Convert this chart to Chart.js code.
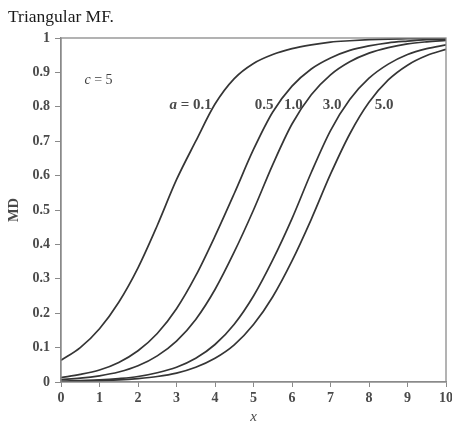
<!DOCTYPE html>
<html>
<head>
<meta charset="utf-8">
<script src="https://cdn.jsdelivr.net/npm/chart.js@4"></script>
<style>
html,body{margin:0;padding:0;background:#fff;}
#wrap{width:452px;height:428px;position:relative;}
</style>
</head>
<body>
<div id="wrap"><canvas id="c" width="452" height="428"></canvas></div>
<script>
// x positions of the read samples
const xValues = [0,0.5,1,1.5,2,2.5,3,3.5,4,4.5,5,5.5,6,6.5,7,7.5,8,8.5,9,9.5,10];
// series (MD values)
const seriesA01 = [0.063,0.100,0.155,0.232,0.332,0.455,0.588,0.700,0.808,0.882,0.926,0.952,0.969,0.980,0.988,0.992,0.995,0.997,0.998,0.999,0.999];
const seriesA05 = [0.013,0.022,0.035,0.057,0.091,0.141,0.213,0.309,0.424,0.548,0.676,0.785,0.860,0.910,0.942,0.964,0.977,0.986,0.991,0.995,0.997];
const seriesA10 = [0.007,0.011,0.018,0.029,0.047,0.076,0.119,0.182,0.269,0.378,0.500,0.632,0.750,0.835,0.893,0.931,0.956,0.972,0.983,0.989,0.993];
const seriesA30 = [0.002,0.004,0.006,0.010,0.016,0.027,0.043,0.069,0.109,0.168,0.250,0.355,0.475,0.609,0.731,0.821,0.883,0.924,0.952,0.969,0.980];
const seriesA50 = [0.001,0.002,0.004,0.006,0.010,0.016,0.026,0.043,0.069,0.108,0.167,0.248,0.352,0.473,0.604,0.721,0.813,0.878,0.921,0.949,0.967];
const seriesNames = ['a = 0.1','0.5','1.0','3.0','5.0'];
const xTicks = [0,1,2,3,4,5,6,7,8,9,10];
const yTicks = [0,0.1,0.2,0.3,0.4,0.5,0.6,0.7,0.8,0.9,1];
const titleText = 'Triangular MF.';
const xTitle = 'x';
const yTitle = 'MD';
const cLabel = 'c = 5';

const allSeries = [seriesA01, seriesA05, seriesA10, seriesA30, seriesA50];
const SERIF = "'Liberation Serif', 'DejaVu Serif', serif";
const lineColor = '#353535';
const axisColor = '#8a8a8a';
const textColor = '#4a4a4a';

const datasets = allSeries.map((s, i) => ({
  label: seriesNames[i],
  data: xValues.map((x, j) => ({x: x, y: s[j]})),
  borderColor: lineColor,
  borderWidth: 1.7,
  pointRadius: 0,
  fill: false,
  cubicInterpolationMode: 'monotone'
}));

// label anchor positions in data space (where the text starts)
const labelPos = [
  {text: seriesNames[0], x: 2.82, y: 0.805, italicPrefix: 'a'},
  {text: seriesNames[1], x: 5.03, y: 0.805},
  {text: seriesNames[2], x: 5.79, y: 0.805},
  {text: seriesNames[3], x: 6.80, y: 0.805},
  {text: seriesNames[4], x: 8.15, y: 0.805}
];

const decor = {
  id: 'decor',
  afterDatasetsDraw(chart) {
    const {ctx, chartArea: a, scales} = chart;
    ctx.save();
    ctx.strokeStyle = axisColor;
    ctx.lineWidth = 1.3;
    ctx.strokeRect(a.left, a.top, a.right - a.left, a.bottom - a.top);
    // title
    ctx.fillStyle = '#1a1a1a';
    ctx.textAlign = 'left';
    ctx.textBaseline = 'alphabetic';
    ctx.font = '17.5px ' + SERIF;
    ctx.fillText(titleText, 8, 22);
    ctx.fillStyle = textColor;
    ctx.textBaseline = 'middle';
    const drawParts = (parts, px, py) => {
      let cx = px;
      parts.forEach(p => {
        ctx.font = p.f;
        ctx.fillText(p.t, cx, py);
        cx += ctx.measureText(p.t).width;
      });
    };
    // c = 5
    ctx.fillStyle = '#404040';
    drawParts([
      {t: 'c', f: 'italic 14px ' + SERIF},
      {t: cLabel.slice(1), f: '14px ' + SERIF}
    ], scales.x.getPixelForValue(0.61), scales.y.getPixelForValue(0.877));
    ctx.fillStyle = textColor;
    labelPos.forEach(l => {
      const px = scales.x.getPixelForValue(l.x);
      const py = scales.y.getPixelForValue(l.y);
      if (l.italicPrefix) {
        drawParts([
          {t: l.italicPrefix, f: 'italic bold 15px ' + SERIF},
          {t: l.text.slice(l.italicPrefix.length), f: 'bold 15px ' + SERIF}
        ], px, py);
      } else {
        drawParts([{t: l.text, f: 'bold 15px ' + SERIF}], px, py);
      }
    });
    ctx.restore();
  }
};

new Chart(document.getElementById('c'), {
  type: 'line',
  data: {datasets},
  options: {
    responsive: false,
    animation: false,
    layout: {padding: {left: 0, right: 6, top: 38, bottom: 0}},
    plugins: {
      legend: {display: false},
      tooltip: {enabled: false},
      title: {display: false}
    },
    scales: {
      x: {
        type: 'linear',
        min: 0, max: 10,
        afterBuildTicks: s => { s.ticks = xTicks.map(v => ({value: v})); },
        afterFit: s => { s.height = 46; s.paddingRight = 0; },
        grid: {drawOnChartArea: false, drawTicks: true, tickLength: 5, color: axisColor},
        border: {color: axisColor, width: 1.3},
        ticks: {color: textColor, font: {family: SERIF, size: 14, weight: 'bold'}, padding: 3, maxRotation: 0},
        title: {display: true, text: xTitle, color: textColor, font: {family: SERIF, size: 15, style: 'italic'}, padding: {top: 0, bottom: 2}}
      },
      y: {
        type: 'linear',
        min: 0, max: 1,
        afterBuildTicks: s => { s.ticks = yTicks.map(v => ({value: v})); },
        afterFit: s => { s.width = 61; },
        grid: {drawOnChartArea: false, drawTicks: true, tickLength: 6, color: axisColor},
        border: {color: axisColor, width: 1.3},
        ticks: {
          color: textColor,
          font: {family: SERIF, size: 14, weight: 'bold'},
          padding: 5,
          callback: v => (v === 0 ? '0' : v === 1 ? '1' : v.toFixed(1))
        },
        title: {display: true, text: yTitle, color: textColor, font: {family: SERIF, size: 14.5, weight: 'bold'}, padding: {top: 6, bottom: 0}}
      }
    }
  },
  plugins: [decor]
});
</script>
</body>
</html>
